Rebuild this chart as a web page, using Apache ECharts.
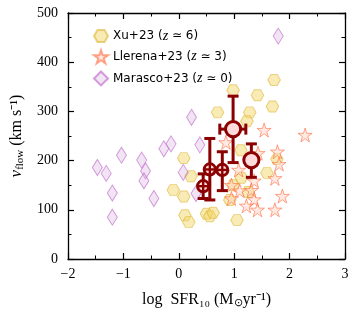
<!DOCTYPE html>
<html>
<head>
<meta charset="utf-8">
<script src="https://cdn.jsdelivr.net/npm/echarts@6/dist/echarts.min.js"></script>
<style>
  html, body { margin: 0; padding: 0; background: #fff; }
  #chart { width: 357px; height: 320px; }
</style>
</head>
<body>
<div id="chart"></div>
<script>
// axis ticks
const xTicks = [-2, -1, 0, 1, 2, 3]
const yTicks = [0, 100, 200, 300, 400, 500]

// Xu+23 (z ~ 6)
const xuX = [0.98, 1.72, 1.42, 0.70, 1.28, 1.69, 1.23, 0.09, 1.12, 1.77, 1.59, 0.22, -0.10, 0.09, 1.13, 0.98, 0.92, 1.25, 0.11, 0.18, 0.50, 0.56, 0.62, 1.05]
const xuY = [343, 364, 333, 298, 298, 310, 280, 205, 221, 203, 175, 168, 140, 127, 165, 150, 120, 136, 89, 75, 92, 87, 94, 79]

// Llerena+23 (z ~ 3)
const llX = [1.54, 2.28, 0.85, 1.78, 1.43, 1.81, 1.08, 1.735, 1.36, 0.95, 1.10, 1.31, 1.36, 0.95, 1.87, 1.22, 1.42, 1.735]
const llY = [262, 252, 237, 218, 215, 193, 181, 164, 159, 150, 139, 140, 121, 123, 128, 108, 100, 100]

// Marasco+23 (z ~ 0)
const maX = [-1.47, -1.31, -1.035, -1.20, -1.20, -0.67, -0.60, -0.63, -0.45, -0.27, -0.14, 0.23, 0.38, 0.08, 0.31, 1.795]
const maY = [186, 174, 211, 134, 85, 201, 179, 159, 123, 224, 234, 288, 232, 176, 133, 453]

// binned points with error bars (kind 1 = circle with plus, 0 = plain circle)
const binX = [0.44, 0.56, 0.785, 0.98, 1.31]
const binY = [148, 182, 181, 264, 201]
const binYLo = [123, 120, 139, 196, 166]
const binYHi = [173, 245, 218, 331, 234]
const binXLo = [0.44, 0.56, 0.785, 0.74, 1.31]
const binXHi = [0.44, 0.56, 0.785, 1.21, 1.31]
const binKind = [1, 1, 1, 0, 0]

const zip = (xs, ys) => xs.map((x, i) => [x, ys[i]])

const HEX = 'path://M-1 0L-0.5 -0.866L0.5 -0.866L1 0L0.5 0.866L-0.5 0.866Z'
const STAR = 'path://M0 -1L0.2245 -0.309L0.951 -0.309L0.363 0.118L0.588 0.809L0 0.382L-0.588 0.809L-0.363 0.118L-0.951 -0.309L-0.2245 -0.309Z'
const DARK = '#8b0000'
const SERIF = 'Liberation Serif'
const SANS = 'DejaVu Sans'

const chart = echarts.init(document.getElementById('chart'))

const renderBin = (params, api) => {
  const c = api.coord([api.value(0), api.value(1)])
  const lo = api.coord([api.value(0), api.value(4)])
  const hi = api.coord([api.value(0), api.value(5)])
  const xl = api.coord([api.value(2), api.value(1)])
  const xh = api.coord([api.value(3), api.value(1)])
  const kind = api.value(6)
  const cap = 5.5
  const ln = { stroke: DARK, lineWidth: 3 }
  const kids = [
    { type: 'line', shape: { x1: c[0], y1: lo[1], x2: c[0], y2: hi[1] }, style: ln },
    { type: 'line', shape: { x1: c[0] - cap, y1: lo[1], x2: c[0] + cap, y2: lo[1] }, style: ln },
    { type: 'line', shape: { x1: c[0] - cap, y1: hi[1], x2: c[0] + cap, y2: hi[1] }, style: ln },
  ]
  if (xh[0] - xl[0] > 1) {
    kids.push(
      { type: 'line', shape: { x1: xl[0], y1: c[1], x2: xh[0], y2: c[1] }, style: ln },
      { type: 'line', shape: { x1: xl[0], y1: c[1] - cap, x2: xl[0], y2: c[1] + cap }, style: ln },
      { type: 'line', shape: { x1: xh[0], y1: c[1] - cap, x2: xh[0], y2: c[1] + cap }, style: ln }
    )
  }
  const r = kind === 1 ? 5.6 : 7.6
  kids.push({ type: 'circle', shape: { cx: c[0], cy: c[1], r: r }, style: { fill: '#ffdcdc', stroke: DARK, lineWidth: 3 } })
  if (kind === 1) {
    kids.push(
      { type: 'line', shape: { x1: c[0] - r, y1: c[1], x2: c[0] + r, y2: c[1] }, style: { stroke: DARK, lineWidth: 2.4 } },
      { type: 'line', shape: { x1: c[0], y1: c[1] - r, x2: c[0], y2: c[1] + r }, style: { stroke: DARK, lineWidth: 2.4 } }
    )
  }
  return { type: 'group', children: kids }
}

const tickStyle = (show) => ({
  axisLine: { show: true, onZero: false, lineStyle: { color: '#000', width: 1.3 } },
  axisTick: { show: true, inside: true, length: 6, lineStyle: { color: '#000', width: 1.2 } },
  minorTick: { show: true, splitNumber: 2, length: 3.5, lineStyle: { color: '#000', width: 1 } },
  splitLine: { show: false },
  axisLabel: { show: show },
})

chart.setOption({
  animation: false,
  grid: { left: 68, right: 12, top: 13, bottom: 61 },
  legend: {
    orient: 'vertical',
    left: 88,
    top: 24,
    itemWidth: 14,
    itemHeight: 14,
    itemGap: 6,
    data: [
      { name: 'Xu+23', icon: HEX },
      { name: 'Llerena+23', icon: STAR },
      { name: 'Marasco+23', icon: 'diamond' },
    ],
    formatter: (name) => {
      const z = { 'Xu+23': '6', 'Llerena+23': '3', 'Marasco+23': '0' }[name]
      return name + ' ({i|z} \u2243 ' + z + ')'
    },
    textStyle: {
      fontFamily: SANS,
      fontSize: 12,
      color: '#000',
      rich: { i: { fontFamily: SERIF, fontStyle: 'italic', fontSize: 14 } },
    },
  },
  xAxis: [
    {
      type: 'value', min: -2, max: 3, interval: 1,
      ...tickStyle(true),
      axisLabel: {
        fontFamily: SERIF, fontSize: 14, color: '#000', margin: 8,
        formatter: (v) => String(v).replace('-', '\u2212'),
      },
      name: 'log  SFR\u2081\u2080 (M{s|\u2299}yr\u207B\u00B9)',
      nameLocation: 'middle',
      nameGap: 31,
      nameTextStyle: {
        fontFamily: SERIF, fontSize: 16, color: '#000',
        rich: { s: { fontFamily: SERIF, fontSize: 11, padding: [8, 0, 0, 0] } },
      },
    },
    { type: 'value', position: 'top', min: -2, max: 3, interval: 1, ...tickStyle(false) },
  ],
  yAxis: [
    {
      type: 'value', min: 0, max: 500, interval: 100,
      ...tickStyle(true),
      axisLabel: { fontFamily: SERIF, fontSize: 14, color: '#000', margin: 10 },
      name: '{v|v}{s|flow} (km s\u207B\u00B9)',
      nameLocation: 'middle',
      nameGap: 40,
      nameTextStyle: {
        fontFamily: SERIF, fontSize: 16, color: '#000',
        rich: {
          v: { fontFamily: SERIF, fontStyle: 'italic', fontSize: 17 },
          s: { fontFamily: SERIF, fontSize: 11, padding: [8, 0, 0, 0] },
        },
      },
    },
    { type: 'value', position: 'right', min: 0, max: 500, interval: 100, ...tickStyle(false) },
  ],
  series: [
    {
      name: 'Xu+23', type: 'scatter', symbol: HEX, symbolSize: [12.5, 11],
      itemStyle: { color: 'rgba(240,214,100,0.6)', borderColor: 'rgba(222,182,50,0.75)', borderWidth: 1 },
      data: zip(xuX, xuY), z: 2,
    },
    {
      name: 'Llerena+23', type: 'scatter', symbol: STAR, symbolSize: 14,
      itemStyle: { color: 'rgba(255,205,190,0.55)', borderColor: 'rgba(255,105,60,0.75)', borderWidth: 1 },
      data: zip(llX, llY), z: 3,
    },
    {
      name: 'Marasco+23', type: 'scatter', symbol: 'diamond', symbolSize: [10, 16],
      itemStyle: { color: 'rgba(205,160,215,0.35)', borderColor: 'rgba(195,110,205,0.85)', borderWidth: 1 },
      data: zip(maX, maY), z: 4,
    },
    {
      type: 'custom', renderItem: renderBin, z: 10,
      encode: { x: 0, y: 1 },
      data: binX.map((x, i) => [x, binY[i], binXLo[i], binXHi[i], binYLo[i], binYHi[i], binKind[i]]),
    },
  ],
})
</script>
</body>
</html>
